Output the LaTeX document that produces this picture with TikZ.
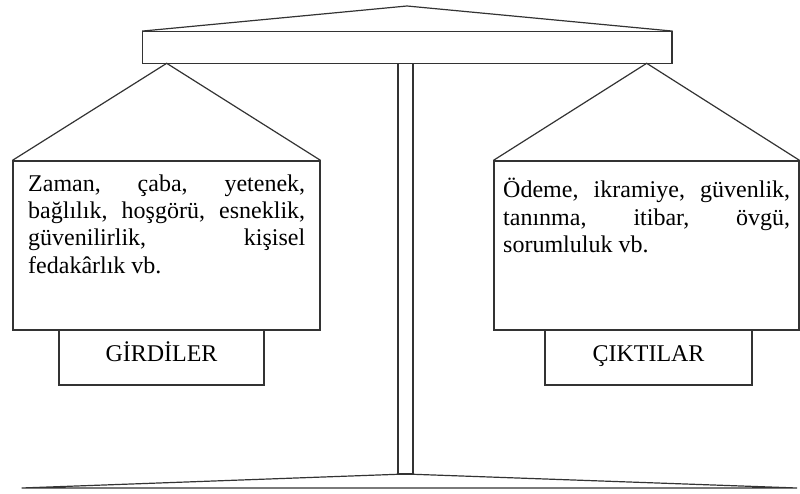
\documentclass[tikz,border=0pt]{standalone}
\usepackage{fontspec}
\setmainfont{Liberation Serif}
\begin{document}
\begin{tikzpicture}[x=1pt,y=-1pt,
  ln/.style={draw=black!80, line width=1.2pt, line join=miter},
  boxnode/.style={ln, rectangle, inner sep=0pt, fill=white},
  txt/.style={inner sep=0pt, anchor=base west, font=\fontsize{24}{28}\selectfont, text=black},
  lbl/.style={inner sep=0pt, anchor=base, font=\fontsize{24}{28}\selectfont, text=black}]
\useasboundingbox (0,0) rectangle (800,494);

% pole
\node[boxnode, minimum width=15pt, minimum height=410.7pt] (pole) at (405.5,268.7) {};
% beam
\node[boxnode, minimum width=529.3pt, minimum height=31.6pt] (beam) at (407.35,47.5) {};
\coordinate (topapex) at (407,6);
\draw[ln] (beam.north west) -- (topapex) -- (beam.north east);

% pans
\node[boxnode, minimum width=307pt, minimum height=169pt] (lbox) at (166.5,245.5) {};
\node[boxnode, minimum width=305pt, minimum height=169pt] (rbox) at (646.5,245.5) {};
\coordinate (lapex) at (166.7,63.3);
\coordinate (rapex) at (646.7,63.3);
\draw[ln] (lbox.north west) -- (lapex) -- (lbox.north east);
\draw[ln] (rbox.north west) -- (rapex) -- (rbox.north east);

% label boxes
\node[boxnode, minimum width=205pt, minimum height=55pt] (lab1) at (161.5,357.5) {};
\node[boxnode, minimum width=207pt, minimum height=55pt] (lab2) at (648.5,357.5) {};
\node[lbl] (girdi) at (161.5,361) {GİRDİLER};
\node[lbl] (cikti) at (648.5,361) {ÇIKTILAR};

% base
\coordinate (bapex) at (405.5,474);
\coordinate (bl) at (21.7,488);
\coordinate (br) at (797,488);
\draw[ln] (bl) -- (bapex) -- (br) -- cycle;

% left text
\node[txt] (l1) at (28,192) {\makebox[277pt][s]{Zaman, çaba, yetenek,}};
\node[txt] (l2) at (28,219) {\makebox[277pt][s]{bağlılık, hoşgörü, esneklik,}};
\node[txt] (l3) at (28,246) {\makebox[277pt][s]{güvenilirlik, kişisel}};
\node[txt] (l4) at (28,273) {fedakârlık vb.};

% right text
\node[txt] (r1) at (503,198) {\makebox[287pt][s]{Ödeme, ikramiye, güvenlik,}};
\node[txt] (r2) at (503,226) {\makebox[287pt][s]{tanınma, itibar, övgü,}};
\node[txt] (r3) at (503,253) {sorumluluk vb.};
\end{tikzpicture}
\end{document}
